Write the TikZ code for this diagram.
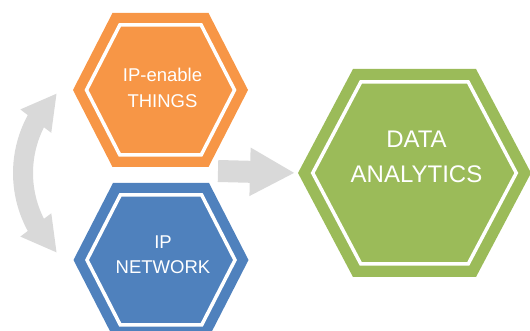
\documentclass[tikz,border=0pt]{standalone}
\usepackage{fontspec}
\setmainfont{Liberation Sans}
\usetikzlibrary{arrows.meta,bending}
\definecolor{hexorange}{HTML}{F79646}
\definecolor{hexblue}{HTML}{4F81BD}
\definecolor{hexgreen}{HTML}{9BBB59}
\definecolor{arrowgray}{HTML}{D9D9D9}
\newcommand{\hexa}[7]{\begin{scope}[shift={#2}]
\fill[#7] (-#3,0)--(-#4,#5)--(#4,#5)--(#3,0)--(#4,-#5)--(-#4,-#5)--cycle;
\pgfmathsetmacro\hxw{#3-#6*veclen(#5,#3-#4)/#5}\pgfmathsetmacro\hxh{#5-#6}\pgfmathsetmacro\hxt{\hxw-(#3-#4)*\hxh/#5}
\draw[white,line width=3.5pt,line join=miter] (-\hxw,0)--(-\hxt,\hxh)--(\hxt,\hxh)--(\hxw,0)--(\hxt,-\hxh)--(-\hxt,-\hxh)--cycle;
\coordinate (#1) at (0,0);\coordinate (#1 w) at (-#3,0);\coordinate (#1 e) at (#3,0);
\end{scope}}

\begin{document}
\begin{tikzpicture}[x=1pt,y=1pt,txt/.style={text=white,align=center,font=\fontsize{18.5}{25.5}\selectfont}]
\clip (0,0) rectangle (530,331);
\hexa{things}{(160.5,241)}{87.5}{48}{77}{12}{hexorange}
\hexa{network}{(161,71)}{87.5}{48}{77}{12}{hexblue}
\hexa{data}{(414.5,158)}{116.5}{61.5}{104}{13}{hexgreen}
\node[txt] (thingstext) at (162.5,243){IP-enable\\THINGS};
\node[txt] (networktext) at (163,76.5){IP\\NETWORK};
\node[txt,font=\fontsize{24}{35}\selectfont] (datatext) at (416.5,174.5){DATA\\ANALYTICS};
\coordinate (gap) at (218,160);\coordinate (loop top) at (56.9,237.8);
\draw[arrowgray,line width=22pt,-{Triangle[width=45pt,length=45pt]},shorten >=3pt] (gap)--(data w);
\draw[arrowgray,line width=20pt,{Triangle[width=36pt,length=35pt]}-{Triangle[width=36pt,length=35pt]}] (loop top) arc[start angle=134,end angle=226,radius=111];
\end{tikzpicture}
\end{document}
